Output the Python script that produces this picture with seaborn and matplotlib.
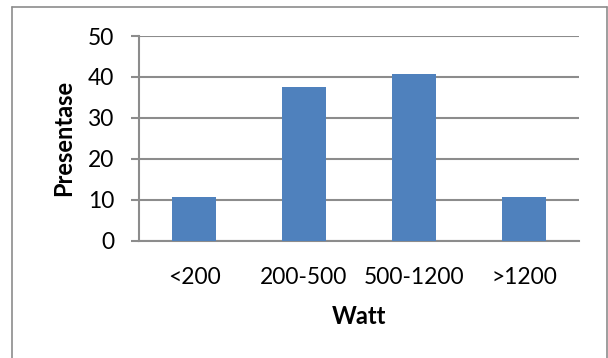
import matplotlib
matplotlib.use("Agg")
import matplotlib.pyplot as plt
import seaborn as sns
import pandas as pd
from matplotlib.lines import Line2D

categories = ["<200", "200-500", "500-1200", ">1200"]
values = [10.7, 37.6, 40.8, 10.7]
yticks = [0, 10, 20, 30, 40, 50]

sns.set_theme(style="white")
plt.rcParams['font.family'] = ['Lato', 'DejaVu Sans']

df = pd.DataFrame({"Watt": categories, "Presentase": values})

fig = plt.figure(figsize=(6.08, 3.58), dpi=100)
ax = fig.add_axes([139/608, 1 - 240.7/358, 440/608, (240.7 - 36)/358])

sns.barplot(data=df, x="Watt", y="Presentase", color="#4F81BD", width=0.4,
            saturation=1, ax=ax, zorder=3, edgecolor="none")

grid_c = "#8C8C8C"
ax.set_ylim(0, 50)
ax.set_xlim(-0.5, 3.5)
ax.set_yticks(yticks)
ax.yaxis.grid(True, color=grid_c, linewidth=1.5, zorder=0)
ax.set_axisbelow(True)
for s in ["top", "right"]:
    ax.spines[s].set_visible(False)
for s in ["left", "bottom"]:
    ax.spines[s].set_color(grid_c)
    ax.spines[s].set_linewidth(1.5)
ax.tick_params(axis="y", which="major", left=True, length=6, width=1.5,
               color=grid_c, pad=12, labelsize=16.4, labelcolor="black")
ax.tick_params(axis="x", bottom=False, pad=13, labelsize=16.4, labelcolor="black")
ax.set_xlabel("Watt", fontsize=17, fontweight="bold", labelpad=12, color="black")
ax.set_ylabel("Presentase", fontsize=17, fontweight="bold", labelpad=9, color="black")

# outer border
bc = "#8C8C8C"
x0, x1 = 12/608, 607/608
ytop = 1 - 7/358
fig.add_artist(Line2D([x0, x0], [0, ytop], transform=fig.transFigure, color=bc, lw=1.2))
fig.add_artist(Line2D([x0, x1], [ytop, ytop], transform=fig.transFigure, color=bc, lw=1.2))
fig.add_artist(Line2D([x1, x1], [0, ytop], transform=fig.transFigure, color=bc, lw=1.2))

fig.savefig("out.png", dpi=100)
